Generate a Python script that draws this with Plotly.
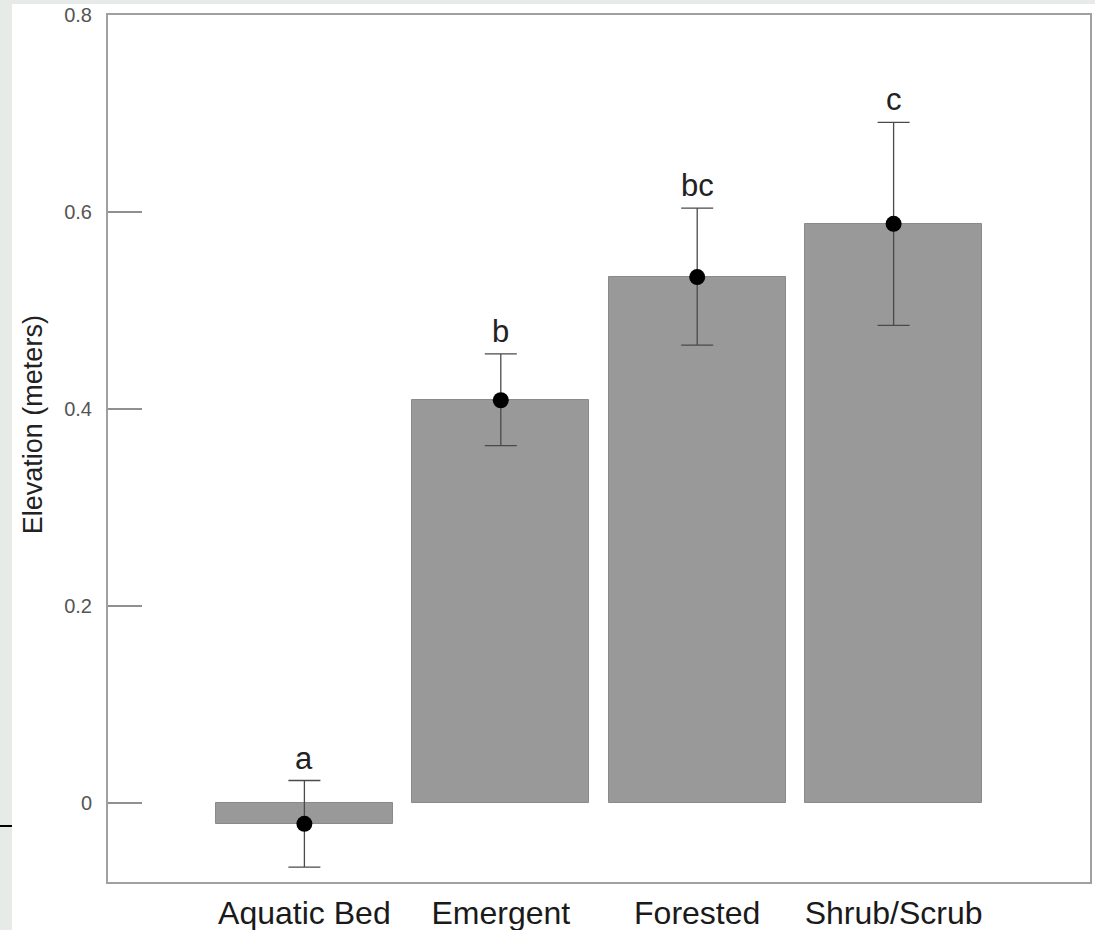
import plotly.graph_objects as go

categories = ["Aquatic Bed", "Emergent", "Forested", "Shrub/Scrub"]
means = [-0.021, 0.409, 0.534, 0.588]
upper = [0.023, 0.456, 0.604, 0.691]
lower = [-0.065, 0.363, 0.465, 0.485]
letters = ["a", "b", "bc", "c"]
ytick_vals = [0, 0.2, 0.4, 0.6, 0.8]
ytick_text = ["0", "0.2", "0.4", "0.6", "0.8"]

err_plus = [u - m for u, m in zip(upper, means)]
err_minus = [m - l for m, l in zip(means, lower)]

FONT = "Liberation Sans, Arial, Helvetica, sans-serif"

fig = go.Figure()
fig.add_trace(go.Bar(
    x=categories, y=means, width=0.9,
    marker=dict(color="#999999", line=dict(color="#8a8a8a", width=1)),
    hoverinfo="skip", showlegend=False,
))
fig.add_trace(go.Scatter(
    x=categories, y=means, mode="markers",
    marker=dict(color="black", size=16),
    error_y=dict(type="data", symmetric=False, array=err_plus, arrayminus=err_minus,
                 color="#4a4a4a", thickness=1.3, width=16),
    showlegend=False,
))

for c, u, t in zip(categories, upper, letters):
    fig.add_annotation(x=c, y=u, text=t, showarrow=False, yanchor="bottom", yshift=3,
                       font=dict(family=FONT, size=31, color="#222222"))

fig.add_annotation(xref="paper", yref="paper", x=-0.0764, y=0.528, text="Elevation (meters)",
                   textangle=-90, showarrow=False, xanchor="center", yanchor="middle",
                   font=dict(family=FONT, size=27, color="#222222"))

# page artefacts: light strips at left/top and short dark line
fig.add_shape(type="rect", xref="paper", yref="paper", x0=-0.12, x1=-0.0978, y0=-0.06, y1=1.02,
              fillcolor="#e6ebe7", line=dict(width=0), layer="below")
fig.add_shape(type="rect", xref="paper", yref="paper", x0=-0.12, x1=1.01, y0=1.0127, y1=1.02,
              fillcolor="#e6ebe7", line=dict(width=0), layer="below")
fig.add_shape(type="line", xref="paper", yref="paper", x0=-0.12, x1=-0.0978, y0=0.0646, y1=0.0646,
              line=dict(color="black", width=2))

fig.update_layout(
    width=1095, height=930,
    margin=dict(l=108, r=5, t=15, b=48),
    paper_bgcolor="white", plot_bgcolor="white",
    font=dict(family=FONT),
    bargap=0,
)
fig.update_xaxes(
    type="category", range=[-1.0, 4.0], automargin=False,
    showline=True, linecolor="#a0a0a0", linewidth=2, mirror=True,
    ticks="", showgrid=False, zeroline=False,
    tickfont=dict(family=FONT, size=32, color="#1a1a1a"),
    ticklabelstandoff=2,
)
fig.update_yaxes(
    range=[-0.08, 0.8], automargin=False,
    tickvals=ytick_vals, ticktext=ytick_text,
    showline=True, linecolor="#a0a0a0", linewidth=2, mirror=True,
    ticks="inside", ticklen=34, tickcolor="#909090", tickwidth=1.5,
    showgrid=False, zeroline=False,
    tickfont=dict(family=FONT, size=20, color="#555555"),
    ticklabelstandoff=10, ticklabeloverflow="allow",
)

fig.write_html(
    "out.html",
    config={"displayModeBar": False},
    post_script="document.body.style.margin='0';document.body.style.overflow='hidden';",
)
